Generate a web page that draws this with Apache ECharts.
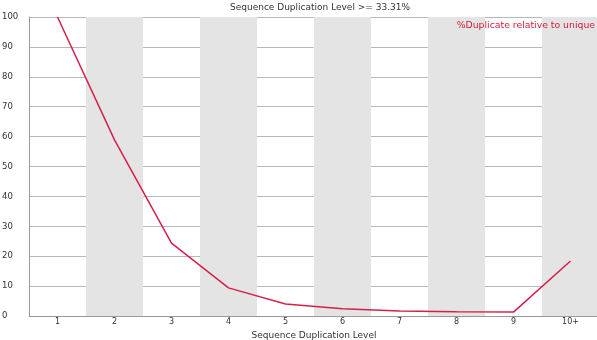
<!DOCTYPE html>
<html>
<head>
<meta charset="utf-8">
<script src="https://cdn.jsdelivr.net/npm/echarts@6/dist/echarts.min.js"></script>
<style>
  html, body { margin: 0; padding: 0; background: #fff; }
  #main { width: 597px; height: 340px; }
</style>
</head>
<body>
<div id="main"></div>
<script>
var levels = ['1', '2', '3', '4', '5', '6', '7', '8', '9', '10+'];
var dupRelative = [100, 58.9, 24.4, 9.4, 4.0, 2.4, 1.7, 1.4, 1.3, 18.4];
var yTicks = [0, 10, 20, 30, 40, 50, 60, 70, 80, 90, 100];

var myChart = echarts.init(document.getElementById('main'));
var option = {
    animation: false,
    title: {
        text: 'Sequence Duplication Level >= 33.31%',
        left: 315,
        textAlign: 'center',
        top: -2,
        textStyle: { fontSize: 9, fontWeight: 'normal', color: '#333', fontFamily: 'DejaVu Sans' }
    },
    legend: {
        right: -3,
        top: 16,
        itemWidth: 0,
        itemHeight: 0,
        icon: 'none',
        data: ['%Duplicate relative to unique'],
        textStyle: { fontSize: 9.3, color: '#d0203f', fontFamily: 'DejaVu Sans' }
    },
    grid: {
        left: 29,
        right: -2,
        top: 17,
        bottom: 24,
        outerBoundsMode: 'none',
        containLabel: false
    },
    xAxis: {
        type: 'category',
        data: levels,
        boundaryGap: true,
        name: 'Sequence Duplication Level',
        nameLocation: 'middle',
        nameGap: 13,
        nameTextStyle: { fontSize: 9, color: '#333', fontFamily: 'DejaVu Sans' },
        axisLine: { lineStyle: { color: '#999' } },
        axisTick: { show: false },
        axisLabel: { fontSize: 8, color: '#333', margin: 2, fontFamily: 'DejaVu Sans' },
        splitArea: {
            show: true,
            areaStyle: { color: ['rgba(255,255,255,0)', '#e4e4e4'] }
        }
    },
    yAxis: {
        type: 'value',
        min: yTicks[0],
        max: yTicks[yTicks.length - 1],
        interval: 10,
        axisLine: { show: true, lineStyle: { color: '#999' } },
        axisTick: { show: false },
        axisLabel: { fontSize: 8.5, color: '#333', margin: 27, align: 'left', fontFamily: 'DejaVu Sans',
            formatter: function (v) { return String(v); } },
        splitLine: { lineStyle: { color: '#b8b8b8' } }
    },
    series: [
        {
            name: '%Duplicate relative to unique',
            type: 'line',
            data: dupRelative,
            symbol: 'none',
            lineStyle: { color: '#d6204a', width: 1.5 },
            itemStyle: { color: '#d6204a' }
        }
    ]
};
myChart.setOption(option);
</script>
</body>
</html>
